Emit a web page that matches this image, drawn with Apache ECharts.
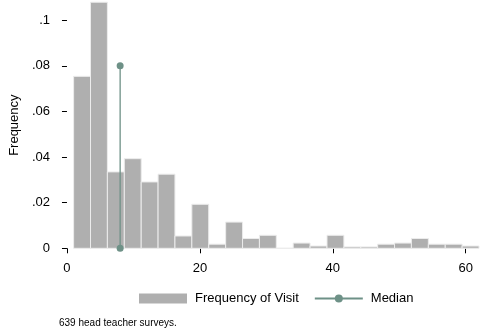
<!DOCTYPE html>
<html>
<head>
<meta charset="utf-8">
<script src="https://cdn.jsdelivr.net/npm/echarts@6/dist/echarts.min.js"></script>
<style>
html,body{margin:0;padding:0;background:#fff;}
#chart{width:485px;height:334px;}
</style>
</head>
<body>
<div id="chart"></div>
<script>
// Histogram bin edges (visit frequency)
var binEdges = [1, 3.54, 6.08, 8.63, 11.17, 13.71, 16.25, 18.79, 21.33, 23.88, 26.42, 28.96, 31.5, 34.04, 36.58, 39.13, 41.67, 44.21, 46.75, 49.29, 51.83, 54.38, 56.92, 59.46, 62];
// Density per bin
var densities = [0.0754, 0.1079, 0.0335, 0.0393, 0.0291, 0.0325, 0.0054, 0.0193, 0.0018, 0.0115, 0.0043, 0.0057, 0, 0.0023, 0.0010, 0.0057, 0.0006, 0.0006, 0.0018, 0.0023, 0.0043, 0.0018, 0.0018, 0.0010];
var medianValue = 8;
var medianHeight = 0.08;
var xTicks = [0, 20, 40, 60];
var yTicks = [0, 0.02, 0.04, 0.06, 0.08, 0.1];
var yTickLabels = ['0', '.02', '.04', '.06', '.08', '.1'];
var seriesNames = ['Frequency of Visit', 'Median'];
var noteText = '639 head teacher surveys.';

var histData = [];
for (var i = 0; i < densities.length; i++) {
  histData.push([binEdges[i], binEdges[i + 1], densities[i]]);
}
var medianData = [[medianValue, 0], [medianValue, medianHeight]];

var FONT = 'Liberation Sans, Arial, Helvetica, sans-serif';
var chart = echarts.init(document.getElementById('chart'), null, {renderer: 'canvas'});
chart.setOption({
  animation: false,
  backgroundColor: '#ffffff',
  grid: {left: 65, right: 6, top: 2, bottom: 85.7, containLabel: false},
  xAxis: {
    type: 'value', min: 0, max: 62, offset: 8,
    axisLine: {show: false},
    axisTick: {show: true, length: 5, customValues: xTicks, lineStyle: {color: '#000', width: 1}},
    axisLabel: {customValues: xTicks, margin: 6, fontSize: 13, color: '#000', fontFamily: FONT},
    splitLine: {show: false}
  },
  yAxis: {
    type: 'value', min: 0, max: 0.108, offset: 9,
    name: 'Frequency', nameLocation: 'middle', nameGap: 32, nameRotate: 90,
    nameTextStyle: {fontSize: 13, color: '#000', fontFamily: FONT},
    axisLine: {show: false},
    axisTick: {show: true, length: 5, customValues: yTicks, lineStyle: {color: '#000', width: 1}},
    axisLabel: {
      customValues: yTicks, margin: 8, fontSize: 13, color: '#000', fontFamily: FONT,
      formatter: function (v) {
        for (var k = 0; k < yTicks.length; k++) { if (Math.abs(yTicks[k] - v) < 1e-9) return yTickLabels[k]; }
        return '';
      }
    },
    splitLine: {show: false}
  },
  legend: {
    show: true, bottom: 24, left: 134,
    itemWidth: 48, itemHeight: 10, itemGap: 15,
    textStyle: {fontSize: 13, color: '#000', fontFamily: FONT, padding: [0, 0, 0, 3]},
    data: [{name: seriesNames[0], icon: 'rect', itemStyle: {borderWidth: 0}}, {name: seriesNames[1]}]
  },
  graphic: [{
    type: 'text', left: 59, top: 318.5,
    style: {text: noteText, fontSize: 10, fill: '#000', fontFamily: FONT}
  }],
  series: [{
    name: seriesNames[0],
    type: 'custom',
    data: histData,
    encode: {x: [0, 1], y: 2},
    itemStyle: {color: '#afafaf', borderColor: '#ececec', borderWidth: 1},
    renderItem: function (params, api) {
      var p0 = api.coord([api.value(0), api.value(2)]);
      var p1 = api.coord([api.value(1), 0]);
      return {
        type: 'rect',
        shape: {x: p0[0], y: p0[1], width: p1[0] - p0[0], height: p1[1] - p0[1]},
        style: {fill: '#afafaf', stroke: '#ececec', lineWidth: 1}
      };
    }
  }, {
    name: seriesNames[1],
    type: 'line',
    data: medianData,
    symbol: 'circle', symbolSize: 7,
    lineStyle: {color: '#6e9187', width: 1.3},
    itemStyle: {color: '#6e9187'},
    z: 5
  }]
});
</script>
</body>
</html>
